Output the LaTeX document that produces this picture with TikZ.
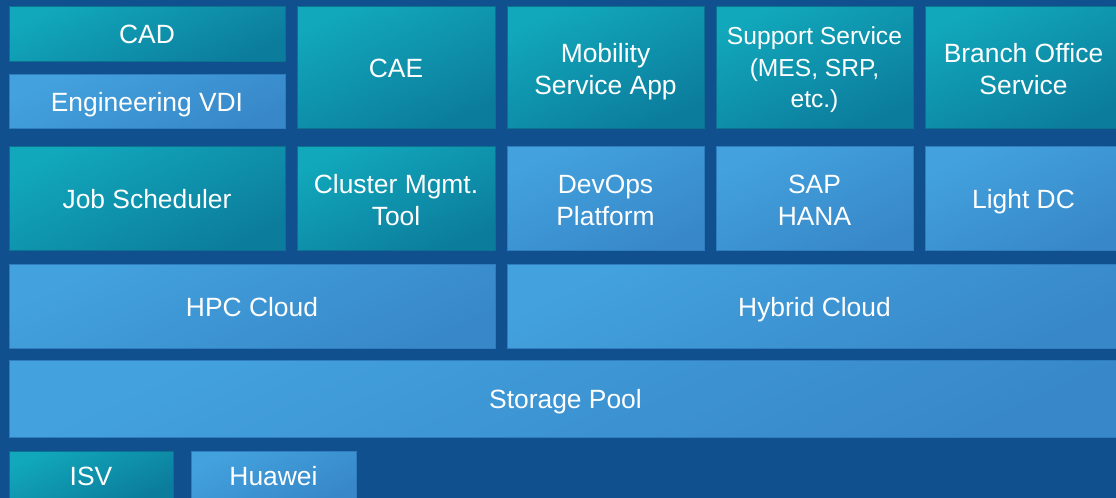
\documentclass[tikz,border=0pt]{standalone}
\usepackage{fontspec}
\setmainfont{Liberation Sans}
\definecolor{bgblue}{HTML}{11508F}
\definecolor{tealtop}{HTML}{11A8BC}
\definecolor{tealbot}{HTML}{0C7C9C}
\definecolor{tealedge}{HTML}{0B7290}
\definecolor{bluetop}{HTML}{43A2DE}
\definecolor{bluebot}{HTML}{3888C9}
\definecolor{blueedge}{HTML}{2F7DBF}
\tikzset{
  layer/.style={draw, rectangle, inner sep=0pt, align=center, text=white,
    font=\fontsize{13.2}{16}\selectfont, line width=0.5pt},
  tealbox/.style={layer, draw=tealedge, top color=tealtop, bottom color=tealbot, shading angle=25},
  bluebox/.style={layer, draw=blueedge, top color=bluetop, bottom color=bluebot, shading angle=25},
  oneline/.style={text height=10.6pt, text depth=0.4pt},
  twoline/.style={text height=27.4pt, text depth=0.4pt},
}
\begin{document}
\begin{tikzpicture}[x=0.5pt,y=-0.5pt]
\useasboundingbox (0,0) rectangle (1116,498);
\clip (0,0) rectangle (1116,498);
\fill[bgblue] (0,0) rectangle (1116,498);

% applications
\node[tealbox, oneline, minimum width=138pt, minimum height=27.5pt] (cad) at (147,33.5) {CAD};
\node[bluebox, oneline, minimum width=138pt, minimum height=27pt] (vdi) at (147,101) {Engineering VDI};
\node[tealbox, oneline, minimum width=99pt, minimum height=61pt] (cae) at (396,67) {CAE};
\node[tealbox, twoline, minimum width=98.5pt, minimum height=61pt] (mobility) at (605.5,67) {Mobility\\Service App};
\node[tealbox, text height=41.1pt, text depth=0.4pt, minimum width=98.5pt, minimum height=61pt,
  font=\fontsize{12.3}{15.85}\selectfont] (support) at (814.5,67) {Support Service\\(MES, SRP,\\etc.)};
\node[tealbox, twoline, minimum width=98.5pt, minimum height=61pt] (branch) at (1023.5,67) {Branch Office\\Service};

% platforms
\node[tealbox, oneline, minimum width=138pt, minimum height=52pt] (jobs) at (147,198) {Job Scheduler};
\node[tealbox, twoline, minimum width=99pt, minimum height=52pt] (cluster) at (396,198) {Cluster Mgmt.\\Tool};
\node[bluebox, twoline, minimum width=98.5pt, minimum height=52pt] (devops) at (605.5,198) {DevOps\\Platform};
\node[bluebox, twoline, minimum width=98.5pt, minimum height=52pt] (sap) at (814.5,198) {SAP\\HANA};
\node[bluebox, oneline, minimum width=98.5pt, minimum height=52pt] (lightdc) at (1023.5,198) {Light DC};

% cloud
\node[bluebox, oneline, minimum width=243pt, minimum height=42pt] (hpc) at (252,306) {HPC Cloud};
\node[bluebox, oneline, minimum width=307.5pt, minimum height=42pt] (hybrid) at (814.5,306) {Hybrid Cloud};

% storage
\node[bluebox, oneline, minimum width=556.5pt, minimum height=38.5pt] (storage) at (565.5,398.5) {Storage Pool};

% partners
\node[tealbox, oneline, minimum width=82pt, minimum height=24pt] (isv) at (91,475) {ISV};
\node[bluebox, oneline, minimum width=82.5pt, minimum height=24pt] (huawei) at (273.5,475) {Huawei};
\end{tikzpicture}
\end{document}
